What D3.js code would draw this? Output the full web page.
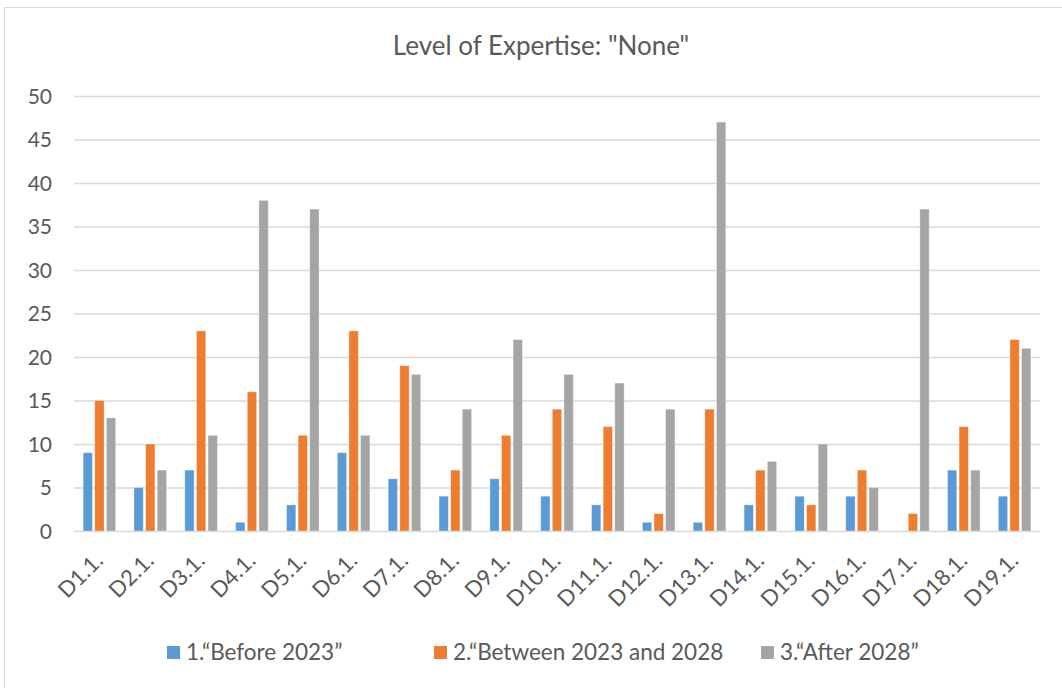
<!DOCTYPE html>
<html>
<head>
<meta charset="utf-8">
<script src="https://cdn.jsdelivr.net/npm/d3@7.9.0/dist/d3.min.js"></script>
<style>
  body { margin: 0; background: #fff; }
  svg { font-family: Lato, "Open Sans", sans-serif; }
</style>
</head>
<body>
<div id="chart"></div>
<script>
// Chart data
const categories = ["D1.1.", "D2.1.", "D3.1.", "D4.1.", "D5.1.", "D6.1.", "D7.1.", "D8.1.", "D9.1.", "D10.1.",
    "D11.1.", "D12.1.", "D13.1.", "D14.1.", "D15.1.", "D16.1.", "D17.1.", "D18.1.", "D19.1."];
const seriesNames = ["1.\u201cBefore 2023\u201d", "2.\u201cBetween 2023 and 2028", "3.\u201cAfter 2028\u201d"];
const before2023 = [9, 5, 7, 1, 3, 9, 6, 4, 6, 4, 3, 1, 1, 3, 4, 4, 0, 7, 4];
const between2023and2028 = [15, 10, 23, 16, 11, 23, 19, 7, 11, 14, 12, 2, 14, 7, 3, 7, 2, 12, 22];
const after2028 = [13, 7, 11, 38, 37, 11, 18, 14, 22, 18, 17, 14, 47, 8, 10, 5, 37, 7, 21];
const yTicks = [0, 5, 10, 15, 20, 25, 30, 35, 40, 45, 50];

const seriesValues = [before2023, between2023and2028, after2028];
const colors = ["#5B9BD5", "#ED7D31", "#A5A5A5"];

function renderChart() {
    const width = 1062;
    const height = 688;
    const plot = { left: 74, right: 1040, top: 96, bottom: 531 };

    const svg = d3.select('#chart')
        .append('svg')
        .attr('width', width)
        .attr('height', height);

    // chart border
    svg.append('rect')
        .attr('x', 4.5).attr('y', 7.5)
        .attr('width', 1070).attr('height', 700)
        .attr('fill', 'none')
        .attr('stroke', '#D9D9D9');

    svg.append('text')
        .attr('x', 541).attr('y', 55)
        .attr('text-anchor', 'middle')
        .attr('font-size', 26)
        .attr('fill', '#595959')
        .text('Level of Expertise: "None"');

    const xScale = d3.scaleBand()
        .domain(categories)
        .range([plot.left, plot.right])
        .paddingInner(0.36)
        .paddingOuter(0.18);

    const xInner = d3.scaleBand()
        .domain(d3.range(seriesValues.length))
        .range([0, xScale.bandwidth()])
        .paddingInner(0.2);

    const yScale = d3.scaleLinear()
        .domain([0, 50])
        .range([plot.bottom, plot.top]);

    // gridlines
    const grid = svg.append('g')
        .attr('transform', `translate(${plot.left},0)`)
        .call(d3.axisLeft(yScale).tickValues(yTicks).tickFormat('').tickSize(-(plot.right - plot.left)));
    grid.select('.domain').remove();
    grid.selectAll('line').attr('stroke', '#D9D9D9').attr('stroke-width', 1.3);

    // y labels
    svg.append('g')
        .selectAll('text')
        .data(yTicks)
        .join('text')
        .attr('x', 52)
        .attr('y', d => yScale(d))
        .attr('dy', '0.36em')
        .attr('text-anchor', 'end')
        .attr('font-size', 21)
        .attr('fill', '#595959')
        .text(d => d);

    // bars
    const groups = svg.append('g')
        .selectAll('g')
        .data(categories)
        .join('g')
        .attr('transform', d => `translate(${xScale(d)},0)`);

    groups.selectAll('rect')
        .data((d, i) => seriesValues.map((s, k) => ({ k, v: s[i] })))
        .join('rect')
        .filter(d => d.v > 0)
        .attr('x', d => xInner(d.k))
        .attr('y', d => yScale(d.v))
        .attr('width', xInner.bandwidth())
        .attr('height', d => yScale(0) - yScale(d.v))
        .attr('fill', d => colors[d.k])
        .attr('stroke', '#fff')
        .attr('stroke-opacity', 0.4)
        .attr('stroke-width', 0.8);

    // x labels, rotated
    svg.append('g')
        .selectAll('text')
        .data(categories)
        .join('text')
        .attr('transform', d => `translate(${xScale(d) + xScale.bandwidth() / 2 + 5},${plot.bottom + 31}) rotate(-45)`)
        .attr('text-anchor', 'end')
        .attr('font-size', 22)
        .attr('fill', '#595959')
        .text(d => d);

    // legend
    const legendX = [167, 434, 761];
    const legend = svg.append('g')
        .selectAll('g')
        .data(seriesNames)
        .join('g')
        .attr('transform', (d, i) => `translate(${legendX[i]},646)`);
    legend.append('rect')
        .attr('x', 0).attr('y', 0)
        .attr('width', 13).attr('height', 13)
        .attr('fill', (d, i) => colors[i]);
    legend.append('text')
        .attr('x', 19).attr('y', 14)
        .attr('font-size', 22.5)
        .attr('fill', '#595959')
        .text(d => d);
}

renderChart();
</script>
</body>
</html>
